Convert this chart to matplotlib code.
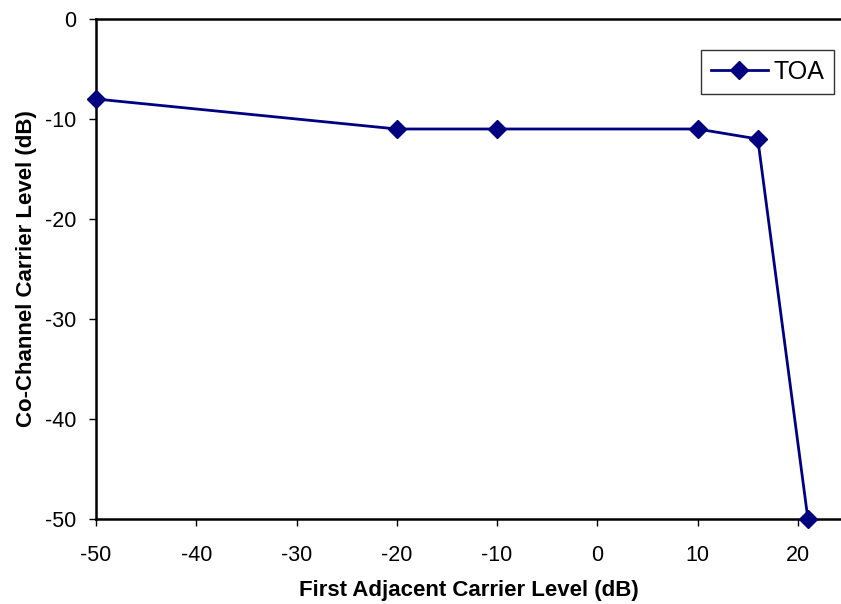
#!/usr/bin/env python3
"""Co-channel vs first adjacent carrier level for TOA."""

import matplotlib
matplotlib.use("Agg")
import matplotlib.pyplot as plt

adjacent_db = [-50, -20, -10, 10, 16, 21]
cochannel_db = [-8, -11, -11, -11, -12, -50]
series_name = "TOA"

x_ticks = [-50, -40, -30, -20, -10, 0, 10, 20]
y_ticks = [0, -10, -20, -30, -40, -50]

plt.rcParams["font.family"] = ["Liberation Sans", "DejaVu Sans"]
plt.rcParams["axes.unicode_minus"] = False


def main():
    fig = plt.figure(figsize=(8.41, 6.04), dpi=100)
    ax = fig.add_axes([96 / 841, 1 - 519 / 604, 1 - 96 / 841, (519 - 19) / 604])

    ax.plot(adjacent_db, cochannel_db, color="#000080", linewidth=2.0,
            marker="D", markersize=9, label=series_name, clip_on=False, zorder=3)

    ax.set_xlim(-50, 24.3)
    ax.set_ylim(-50, 0)
    ax.set_xticks(x_ticks)
    ax.set_yticks(y_ticks)
    ax.tick_params(axis="both", direction="out", length=5, width=1, labelsize=15.5)
    ax.tick_params(axis="x", pad=14)
    ax.tick_params(axis="y", pad=9)
    for side in ("left", "bottom", "top"):
        ax.spines[side].set_linewidth(1.8)
    ax.spines["right"].set_visible(False)

    ax.set_xlabel("First Adjacent Carrier Level (dB)", fontsize=16,
                  fontweight="bold", labelpad=10)
    ax.set_ylabel("Co-Channel Carrier Level (dB)", fontsize=16,
                  fontweight="bold", labelpad=6)

    leg = ax.legend(loc="upper right", bbox_to_anchor=(738 / 745, 0.938),
                    fontsize=18, frameon=True, fancybox=False, borderpad=0.4,
                    handlelength=2.3, handletextpad=0.2, borderaxespad=0)
    leg.get_frame().set_edgecolor("black")
    leg.get_frame().set_linewidth(1.0)

    fig.savefig("out.png", dpi=100)


if __name__ == "__main__":
    main()
